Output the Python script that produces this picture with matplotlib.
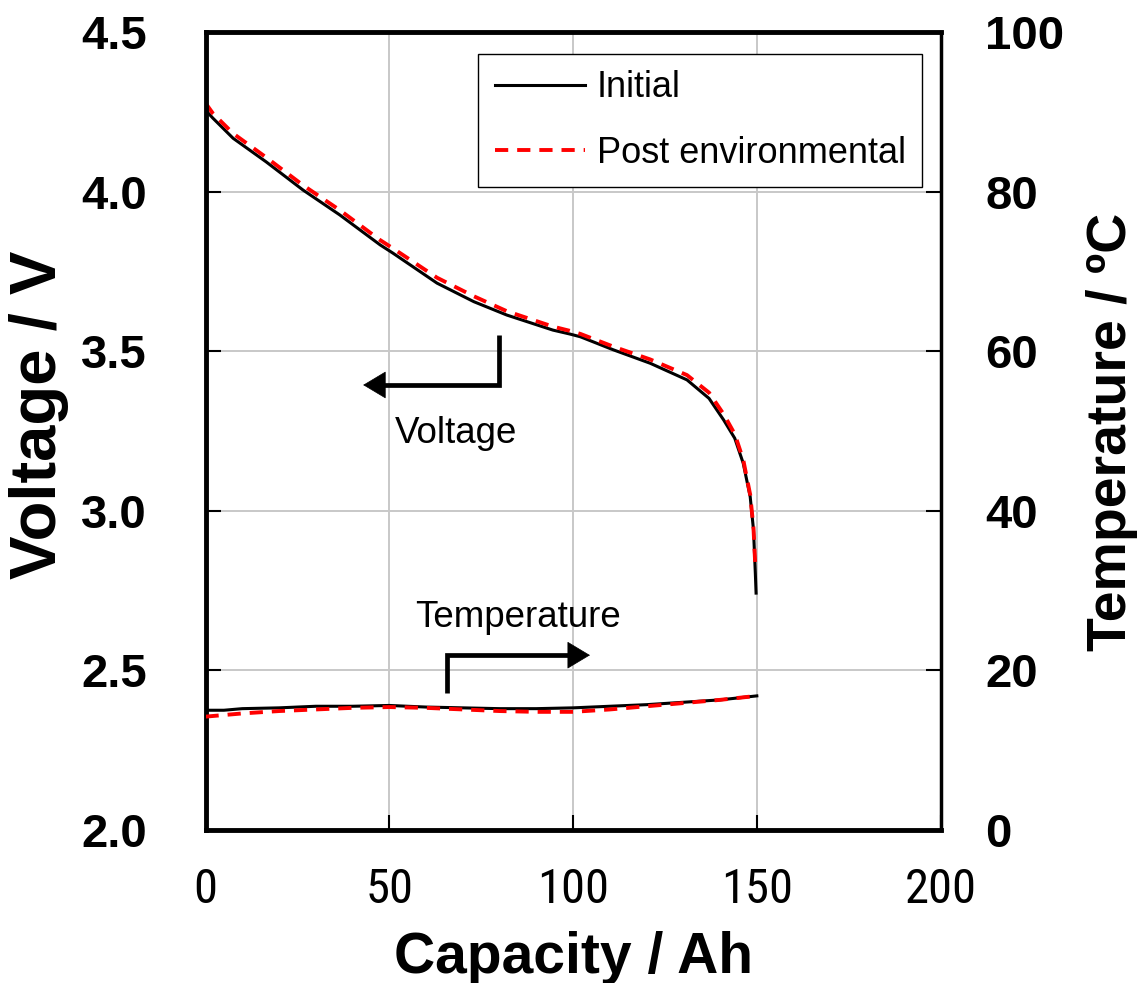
import numpy as np
import matplotlib
matplotlib.use("Agg")
import matplotlib.pyplot as plt
from matplotlib import font_manager

# discharge curves: capacity (Ah) vs voltage (V)
cap_init = [0, 2, 7.5, 16.5, 26.5, 36.5, 47.5, 51, 63, 73, 82, 94.5, 99, 102,
            111, 121, 131, 137, 141, 144, 146.3, 148.2, 149.1, 149.6, 149.8]
volt_init = [4.255, 4.23, 4.167, 4.093, 4.005, 3.927, 3.833, 3.807, 3.713, 3.655,
             3.613, 3.566, 3.554, 3.545, 3.504, 3.462, 3.410, 3.352, 3.284, 3.227,
             3.149, 3.044, 2.940, 2.804, 2.742]
cap_post = [0, 2, 7.5, 16.5, 26.5, 36.5, 47.5, 51, 63, 73, 82, 94.5, 99, 102,
            111, 121, 131, 137, 141, 144, 146.3, 148.2, 149.1, 149.6]
volt_post = [4.277, 4.245, 4.182, 4.107, 4.02, 3.942, 3.848, 3.822, 3.73, 3.672,
             3.625, 3.577, 3.564, 3.554, 3.514, 3.474, 3.425, 3.37, 3.302, 3.24,
             3.16, 3.05, 2.945, 2.825]

# cell temperature during discharge (degC)
cap_temp = [0, 5, 10, 20, 30, 40, 50, 60, 70, 80, 90, 100, 110, 120, 130, 140, 150]
temp_init = [15.0, 15.0, 15.2, 15.3, 15.5, 15.5, 15.6, 15.4, 15.3, 15.2, 15.2,
             15.3, 15.5, 15.7, 16.0, 16.3, 16.8]
temp_post = [14.2, 14.4, 14.6, 14.9, 15.1, 15.3, 15.4, 15.3, 15.1, 14.9, 14.8,
             14.8, 15.1, 15.5, 15.9, 16.3, 16.8]

series_labels = ["Initial", "Post environmental"]
x_ticks = [0, 50, 100, 150, 200]
v_ticks = [2.0, 2.5, 3.0, 3.5, 4.0, 4.5]
t_ticks = [0, 20, 40, 60, 80, 100]

BOLD = "Liberation Sans"
installed = {f.name for f in font_manager.fontManager.ttflist}
NARROW = next((n for n in ["Liberation Sans Narrow", "Roboto Condensed"]
               if n in installed), "Liberation Sans")
x_tick_size = 35 if NARROW != "Liberation Sans" else 31

fig = plt.figure(figsize=(11.43, 9.83), dpi=100)
ax = fig.add_axes([0.1798, 0.1557, 0.6431, 0.8118])
ax2 = ax.twinx()

ax.set_xlim(0, 200)
ax.set_ylim(2.0, 4.5)
ax2.set_ylim(0, 100)

ax.grid(True, color="#c8c8c8", linewidth=1.4)
ax.set_axisbelow(True)

l1, = ax.plot(cap_init, volt_init, color="black", lw=2.2, label=series_labels[0])
l2, = ax.plot(cap_post, volt_post, color="red", lw=2.8, dashes=(3.4, 2.3),
              label=series_labels[1])
ax2.plot(cap_temp, temp_init, color="black", lw=2.2)
ax2.plot(cap_temp, temp_post, color="red", lw=2.8, dashes=(3.4, 2.3))

# ticks
ax.set_xticks(x_ticks)
ax.set_xticklabels([str(v) for v in x_ticks], family=NARROW, fontsize=x_tick_size)
ax.set_yticks(v_ticks)
ax.set_yticklabels([f"{v:.1f}" for v in v_ticks], family=BOLD,
                   fontweight="bold", fontsize=34)
ax2.set_yticks(t_ticks)
ax2.set_yticklabels([str(v) for v in t_ticks], family=BOLD,
                    fontweight="bold", fontsize=34)
ax.tick_params(axis="x", direction="in", length=11, width=1.5, pad=27)
ax.tick_params(axis="y", direction="in", length=11, width=1.5, pad=42)
ax2.tick_params(axis="y", direction="in", length=11, width=1.5, pad=32)

for side in ["left", "top", "bottom"]:
    ax.spines[side].set_linewidth(3.5)
ax.spines["right"].set_visible(False)
for side in ["left", "top", "bottom"]:
    ax2.spines[side].set_visible(False)
ax2.spines["right"].set_linewidth(2.5)

# axis titles
ax.set_xlabel("Capacity / Ah", family=BOLD, fontweight="bold", fontsize=41)
ax.xaxis.set_label_coords(0.5, -0.160)
ax.xaxis.label.set_va("center")
ax.set_ylabel("Voltage / V", family=BOLD, fontweight="bold", fontsize=47)
ax.yaxis.set_label_coords(-0.227, 0.52)
ax.yaxis.label.set_va("center")
ax2.set_ylabel("Temperature / \u00baC", family=BOLD, fontweight="bold", fontsize=40)
ax2.yaxis.set_label_coords(1.233, 0.499)
ax2.yaxis.label.set_va("center")

# elbow arrows pointing at the matching axis
arrow_kw = dict(arrowstyle="-|>,head_length=0.7,head_width=0.42",
                mutation_scale=22, color="black", lw=0.5,
                shrinkA=0, shrinkB=0)
ax.plot([79.9, 79.9, 48.0], [3.551, 3.394, 3.394], color="black", lw=3.4,
        solid_joinstyle="miter", solid_capstyle="butt")
ax.annotate("", xy=(42.9, 3.394), xytext=(49.0, 3.394), arrowprops=arrow_kw)
ax.text(68.1, 3.212, "Voltage", family="Liberation Sans", fontsize=26.5,
        ha="center", va="baseline")

ax2.plot([65.6, 65.6, 99.5], [17.1, 21.9, 21.9], color="black", lw=3.4,
         solid_joinstyle="miter", solid_capstyle="butt")
ax2.annotate("", xy=(104.6, 21.9), xytext=(98.5, 21.9), arrowprops=arrow_kw)
ax2.text(85.0, 25.4, "Temperature", family="Liberation Sans", fontsize=26.5,
         ha="center", va="baseline")

leg = ax2.legend(handles=[l1, l2], loc="upper right",
                 bbox_to_anchor=(0.9748, 0.9724), borderaxespad=0,
                 prop={"family": "Liberation Sans", "size": 26},
                 handlelength=2.5, handletextpad=0.33, labelspacing=0.85,
                 borderpad=0.45, fancybox=False, framealpha=1)
leg.get_frame().set_edgecolor("black")
leg.get_frame().set_linewidth(1.0)

fig.savefig("out.png", dpi=100)
